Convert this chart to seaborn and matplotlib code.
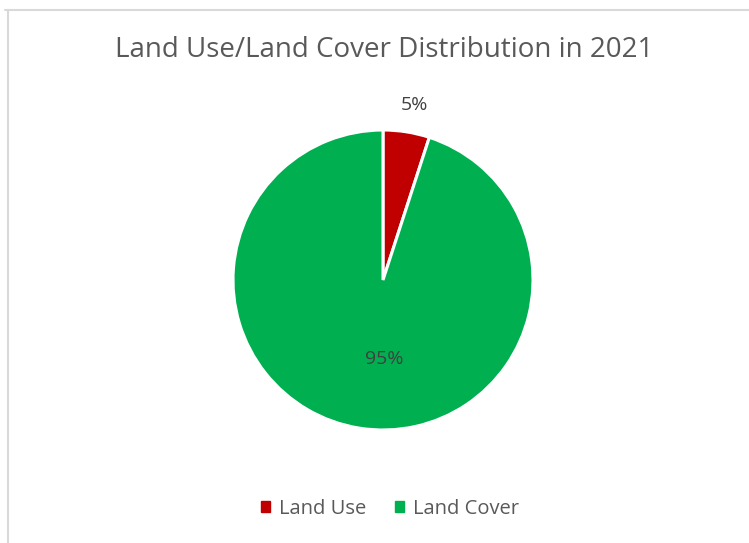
import matplotlib
matplotlib.use("Agg")
import matplotlib.pyplot as plt
import seaborn as sns
import numpy as np
from matplotlib.patches import Patch
from matplotlib.lines import Line2D

categories = ["Land Use", "Land Cover"]
shares = [5, 95]
slice_colors = ["#C00000", "#00B050"]
title_text = "Land Use/Land Cover Distribution in 2021"

sns.set_theme(style="white")
plt.rcParams["font.family"] = ["Open Sans", "DejaVu Sans"]

W, H = 749, 543
fig = plt.figure(figsize=(W / 100, H / 100), dpi=100)
fig.patch.set_facecolor("white")

# pie axes: centre (383, 280) px, radius 150 px
cx, cy, r = 383, 280, 150
ax = fig.add_axes([(cx - r) / W, (H - cy - r) / H, 2 * r / W, 2 * r / H])
wedges, _ = ax.pie(
    shares,
    colors=slice_colors,
    startangle=90,
    counterclock=False,
    radius=1.0,
    wedgeprops=dict(edgecolor="white", linewidth=2.2),
)
ax.set_xlim(-1, 1)
ax.set_ylim(-1, 1)
ax.set_aspect("equal")
ax.axis("off")

# percentage labels
label_pos = [(0.21, 1.17), (0.01, -0.53)]
for val, (lx, ly) in zip(shares, label_pos):
    ax.text(lx, ly, f"{val}%", ha="center", va="center",
            fontsize=14, color="#404040", clip_on=False)

fig.text(0.513, 1 - 50 / H, title_text, ha="center", va="center",
         fontsize=20, color="#595959")

handles = [Patch(facecolor=c, edgecolor=c) for c in slice_colors]
fig.legend(handles, categories, loc="center", ncol=2,
           bbox_to_anchor=(0.5205, 1 - 509 / H), frameon=False,
           fontsize=14.5, handlelength=0.45, handleheight=0.45,
           handletextpad=0.45, columnspacing=1.4,
           labelcolor="#595959")

# chart-area border (top and left edges)
border = "#D9D9D9"
fig.add_artist(Line2D([5 / W, 1], [1 - 9.5 / H] * 2, color=border, lw=1.5,
                      transform=fig.transFigure))
fig.add_artist(Line2D([7.5 / W] * 2, [0, 1 - 9.5 / H], color=border, lw=1.5,
                      transform=fig.transFigure))

fig.savefig("out.png", dpi=100, facecolor="white")
